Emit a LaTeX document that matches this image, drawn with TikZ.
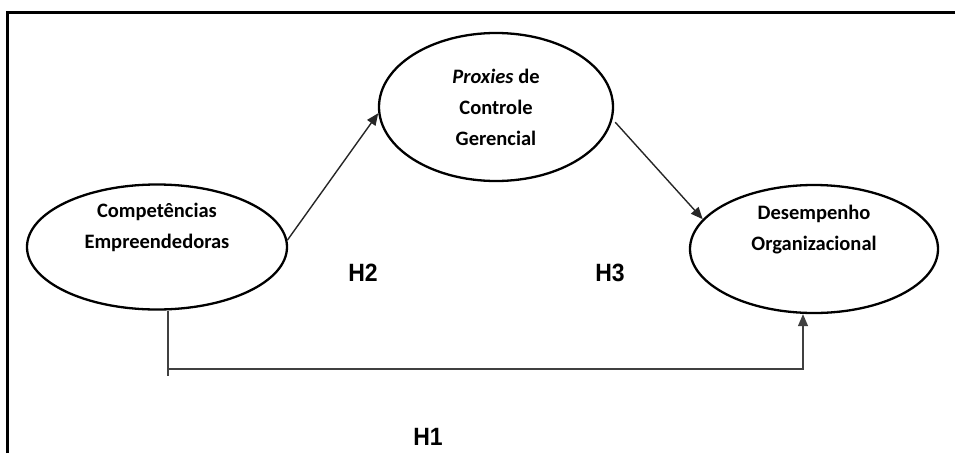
\documentclass[tikz,border=0pt]{standalone}
\usepackage{fontspec}
\setmainfont{Carlito}
\newfontfamily\hypfont[FakeStretch=0.92]{Liberation Sans}
\usetikzlibrary{arrows.meta,shapes.geometric,calc}

\begin{document}
\begin{tikzpicture}[
  x=1pt,y=-1pt,
  construct/.style={draw=black,ellipse,line width=2.3pt,inner sep=0pt,align=center,font=\fontsize{20.5}{31}\selectfont\bfseries},
  arr/.style={-{Triangle[length=12pt,width=10pt]},line width=1.4pt,draw=black!85},
  hlink/.style={line width=1.3pt,draw=black!75},
  hyp/.style={font=\hypfont\fontsize{25}{28}\selectfont\bfseries,inner sep=0pt},
  frame/.style={line width=3pt,draw=black}
]
\useasboundingbox (0,0) rectangle (955,453);
% ---------------- frame ----------------
\draw[frame] (7.5,453) -- (7.5,12.5) -- (955,12.5);
% ---------------- constructs ----------------
\node[construct,minimum width=260pt,minimum height=122pt] (comp) at (157,247)
  {Competências\\Empreendedoras\\[12pt]\mbox{}};
\node[construct,minimum width=234pt,minimum height=148pt] (proxy) at (496,107)
  {\textit{Proxies} de\\Controle\\Gerencial};
\node[construct,minimum width=248pt,minimum height=128pt] (perf) at (814,249)
  {Desempenho\\Organizacional\\[12pt]\mbox{}};
% ---------------- hypotheses ----------------
\draw[arr] (comp.3) -- (proxy.183);
\draw[arr,shorten <=4pt] (proxy.-6) -- (perf.165);
\coordinate (h1a) at (168,369);
\coordinate (h1b) at (803,369);
\draw[hlink] (comp.south -| h1a) -- ($(h1a)+(0,7)$);
\draw[hlink,-{Triangle[length=12pt,width=10pt]}] (h1a) -- (h1b) -- (perf.south -| h1b);
\node[hyp] (h2) at (363,273) {H2};
\node[hyp] (h3) at (610,273) {H3};
\node[hyp] (h1) at (428,437) {H1};
\end{tikzpicture}
\end{document}
